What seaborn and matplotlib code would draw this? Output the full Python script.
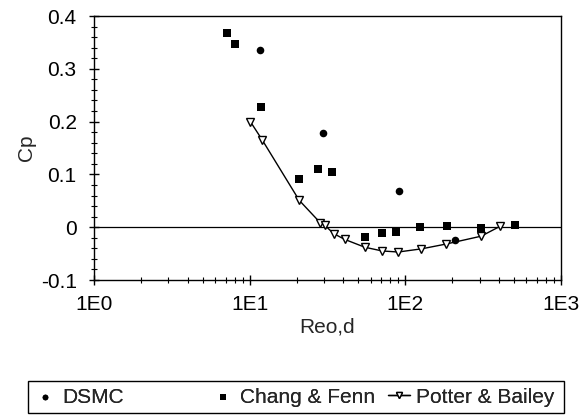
import matplotlib
matplotlib.use("Agg")
import matplotlib.pyplot as plt
import seaborn as sns
import numpy as np
import pandas as pd
from matplotlib.ticker import FixedLocator, FuncFormatter, LogLocator, MultipleLocator
from matplotlib.patches import Rectangle

# --- data ---
dsmc_re = [11.6, 29.8, 91.0, 208.0]
dsmc_cp = [0.336, 0.179, 0.068, -0.025]

chang_re = [7.2, 8.0, 11.8, 20.8, 27.6, 33.6, 55.0, 71.0, 87.5, 125.0, 185.0, 307.0, 510.0]
chang_cp = [0.368, 0.347, 0.228, 0.091, 0.111, 0.104, -0.019, -0.011, -0.009, 0.000, 0.002, -0.002, 0.004]

potter_re = [10.1, 12.0, 20.8, 28.5, 30.3, 34.6, 40.7, 55.0, 71.0, 90.0, 127.0, 182.0, 307.0, 408.0]
potter_cp = [0.200, 0.166, 0.051, 0.008, 0.004, -0.012, -0.023, -0.038, -0.045, -0.047, -0.041, -0.032, -0.017, 0.002]

x_ticks = [1, 10, 100, 1000]
x_ticklabels = ["1E0", "1E1", "1E2", "1E3"]
y_ticks = [-0.1, 0, 0.1, 0.2, 0.3, 0.4]
y_ticklabels = ["-0.1", "0", "0.1", "0.2", "0.3", "0.4"]

dsmc = pd.DataFrame({"Re": dsmc_re, "Cp": dsmc_cp})
chang = pd.DataFrame({"Re": chang_re, "Cp": chang_cp})
potter = pd.DataFrame({"Re": potter_re, "Cp": potter_cp})

sns.set_theme(style="ticks")
plt.rcParams["font.family"] = ["Liberation Sans", "DejaVu Sans"]
plt.rcParams["axes.edgecolor"] = "black"
plt.rcParams["axes.linewidth"] = 1.0

FS = 15
W, H = 587, 415
fig = plt.figure(figsize=(W / 100, H / 100), dpi=100)
ax = fig.add_axes([94 / W, 1 - 280 / H, (561 - 94) / W, (280 - 16) / H])

ax.axhline(0, color="black", lw=0.9, zorder=1)

sns.scatterplot(data=dsmc, x="Re", y="Cp", ax=ax, marker="o", s=30, color="black",
                edgecolor="black", linewidth=0, label="DSMC", zorder=3)
sns.scatterplot(data=chang, x="Re", y="Cp", ax=ax, marker="s", s=26, color="black",
                edgecolor="black", linewidth=0, label="Chang & Fenn", zorder=3)
sns.lineplot(data=potter, x="Re", y="Cp", ax=ax, color="black", lw=1.0, marker="v",
             markersize=5.8, markerfacecolor="white", markeredgecolor="black",
             markeredgewidth=1.0, label="Potter & Bailey", zorder=4, sort=False)

ax.set_xscale("log")
ax.set_xlim(1, 1000)
ax.set_ylim(-0.1, 0.4)
ax.xaxis.set_major_locator(FixedLocator(x_ticks))
ax.set_xticklabels(x_ticklabels)
ax.xaxis.set_minor_locator(LogLocator(base=10, subs=np.arange(2, 10)))
ax.xaxis.set_minor_formatter(FuncFormatter(lambda v, p: ""))
ax.yaxis.set_major_locator(FixedLocator(y_ticks))
ax.set_yticklabels(y_ticklabels)
ax.yaxis.set_minor_locator(MultipleLocator(0.02))

ax.tick_params(axis="both", which="major", direction="inout", length=7, width=1.0,
               colors="black", labelsize=FS)
ax.tick_params(axis="x", which="major", pad=7)
ax.tick_params(axis="y", which="major", pad=9)
ax.tick_params(axis="both", which="minor", direction="inout", length=4, width=0.8,
               colors="black")
for s in ax.spines.values():
    s.set_visible(True)
    s.set_color("black")
    s.set_linewidth(1.0)

ax.set_xlabel("Reo,d", fontsize=FS, labelpad=3)
ax.set_ylabel("Cp", fontsize=FS, labelpad=3)

handles, labels = ax.get_legend_handles_labels()
ax.get_legend().remove()

# legend box with three equal-width columns (spreadsheet style)
box_l, box_r, box_t, box_b = 28, 564, 381, 413
fig.patches.append(Rectangle((box_l / W, 1 - box_b / H), (box_r - box_l) / W,
                             (box_b - box_t) / H, transform=fig.transFigure,
                             facecolor="none", edgecolor="black", lw=1.0))
col_x = [34, 212, 388]
yc = 1 - (box_t + box_b) / 2 / H
for h, lab, cx in zip(handles, labels, col_x):
    lg = fig.legend([h], [lab], loc="center left", bbox_to_anchor=(cx / W, yc),
                    frameon=False, fontsize=FS, handlelength=1.05,
                    handletextpad=0.3, borderpad=0, borderaxespad=0,
                    markerscale=0.75)
    fig.add_artist(lg)

fig.savefig("out.png", dpi=100)
